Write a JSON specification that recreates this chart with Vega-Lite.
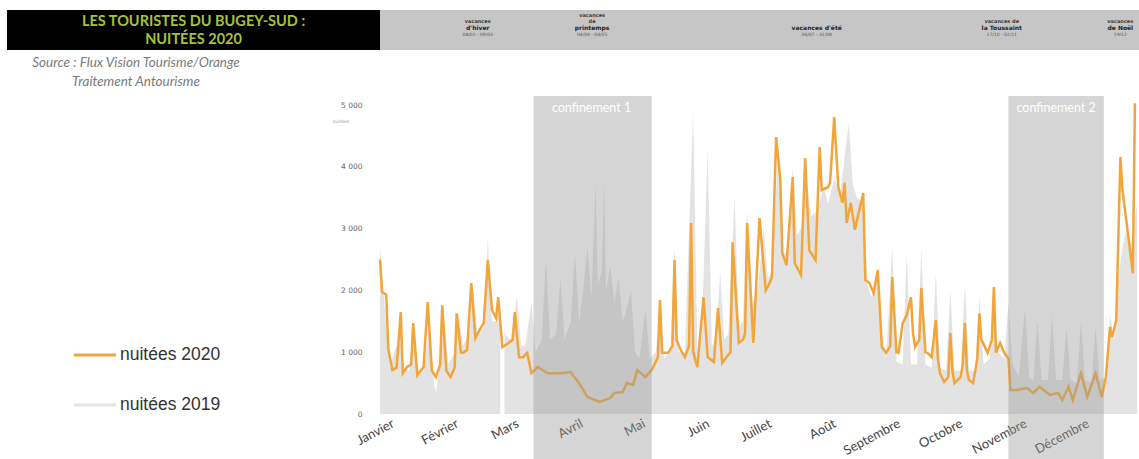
{
  "$schema": "https://vega.github.io/schema/vega-lite/v6.json",
  "padding": {"left": 7, "top": 10, "right": 2, "bottom": 0},
  "background": "#ffffff",
  "config": {"view": {"stroke": null}, "font": "Lato"},
  "bounds": "flush",
  "spacing": 86,
  "resolve": {"scale": {"color": "independent", "x": "independent", "y": "independent"}, "legend": {"color": "independent"}},
  "datasets": {
    "n2020": [
      {"date": "2020-01-01", "nuitees": 2500}, {"date": "2020-01-02", "nuitees": 1975}, {"date": "2020-01-04", "nuitees": 1930}, {"date": "2020-01-05", "nuitees": 1050},
      {"date": "2020-01-07", "nuitees": 710}, {"date": "2020-01-09", "nuitees": 750}, {"date": "2020-01-11", "nuitees": 1650}, {"date": "2020-01-12", "nuitees": 660},
      {"date": "2020-01-14", "nuitees": 760}, {"date": "2020-01-16", "nuitees": 800}, {"date": "2020-01-17", "nuitees": 1470}, {"date": "2020-01-19", "nuitees": 630},
      {"date": "2020-01-22", "nuitees": 760}, {"date": "2020-01-24", "nuitees": 1810}, {"date": "2020-01-26", "nuitees": 700}, {"date": "2020-01-28", "nuitees": 600},
      {"date": "2020-01-30", "nuitees": 800}, {"date": "2020-01-31", "nuitees": 1760}, {"date": "2020-02-02", "nuitees": 700}, {"date": "2020-02-04", "nuitees": 600},
      {"date": "2020-02-06", "nuitees": 750}, {"date": "2020-02-07", "nuitees": 1630}, {"date": "2020-02-09", "nuitees": 1000}, {"date": "2020-02-10", "nuitees": 990},
      {"date": "2020-02-12", "nuitees": 1035}, {"date": "2020-02-14", "nuitees": 2120}, {"date": "2020-02-16", "nuitees": 1230}, {"date": "2020-02-18", "nuitees": 1360},
      {"date": "2020-02-20", "nuitees": 1470}, {"date": "2020-02-22", "nuitees": 2490}, {"date": "2020-02-24", "nuitees": 1680}, {"date": "2020-02-26", "nuitees": 1550},
      {"date": "2020-02-27", "nuitees": 1890}, {"date": "2020-02-29", "nuitees": 1085}, {"date": "2020-03-03", "nuitees": 1150}, {"date": "2020-03-05", "nuitees": 1200},
      {"date": "2020-03-06", "nuitees": 1650}, {"date": "2020-03-08", "nuitees": 920}, {"date": "2020-03-10", "nuitees": 920}, {"date": "2020-03-12", "nuitees": 990},
      {"date": "2020-03-14", "nuitees": 660}, {"date": "2020-03-17", "nuitees": 760}, {"date": "2020-03-22", "nuitees": 660}, {"date": "2020-03-28", "nuitees": 660},
      {"date": "2020-04-02", "nuitees": 680}, {"date": "2020-04-03", "nuitees": 630}, {"date": "2020-04-06", "nuitees": 500}, {"date": "2020-04-10", "nuitees": 275},
      {"date": "2020-04-16", "nuitees": 195}, {"date": "2020-04-21", "nuitees": 260}, {"date": "2020-04-23", "nuitees": 340}, {"date": "2020-04-27", "nuitees": 355},
      {"date": "2020-04-29", "nuitees": 500}, {"date": "2020-05-02", "nuitees": 470}, {"date": "2020-05-04", "nuitees": 710}, {"date": "2020-05-08", "nuitees": 600},
      {"date": "2020-05-11", "nuitees": 710}, {"date": "2020-05-14", "nuitees": 920}, {"date": "2020-05-15", "nuitees": 1845}, {"date": "2020-05-16", "nuitees": 990},
      {"date": "2020-05-19", "nuitees": 990}, {"date": "2020-05-21", "nuitees": 1100}, {"date": "2020-05-22", "nuitees": 2490}, {"date": "2020-05-23", "nuitees": 1200},
      {"date": "2020-05-25", "nuitees": 1035}, {"date": "2020-05-27", "nuitees": 920}, {"date": "2020-05-29", "nuitees": 1100}, {"date": "2020-05-30", "nuitees": 3090},
      {"date": "2020-05-31", "nuitees": 1000}, {"date": "2020-06-02", "nuitees": 760}, {"date": "2020-06-05", "nuitees": 1890}, {"date": "2020-06-07", "nuitees": 920},
      {"date": "2020-06-10", "nuitees": 840}, {"date": "2020-06-12", "nuitees": 1715}, {"date": "2020-06-14", "nuitees": 825}, {"date": "2020-06-16", "nuitees": 920},
      {"date": "2020-06-18", "nuitees": 1000}, {"date": "2020-06-19", "nuitees": 2780}, {"date": "2020-06-22", "nuitees": 1150}, {"date": "2020-06-24", "nuitees": 1200},
      {"date": "2020-06-25", "nuitees": 1300}, {"date": "2020-06-26", "nuitees": 3090}, {"date": "2020-06-29", "nuitees": 1150}, {"date": "2020-07-02", "nuitees": 3170},
      {"date": "2020-07-05", "nuitees": 2000}, {"date": "2020-07-06", "nuitees": 2055}, {"date": "2020-07-08", "nuitees": 2215}, {"date": "2020-07-10", "nuitees": 4480},
      {"date": "2020-07-12", "nuitees": 3800}, {"date": "2020-07-13", "nuitees": 2600}, {"date": "2020-07-15", "nuitees": 2410}, {"date": "2020-07-18", "nuitees": 3835},
      {"date": "2020-07-19", "nuitees": 2440}, {"date": "2020-07-22", "nuitees": 2250}, {"date": "2020-07-24", "nuitees": 4140}, {"date": "2020-07-26", "nuitees": 2650},
      {"date": "2020-07-29", "nuitees": 2490}, {"date": "2020-07-31", "nuitees": 4320}, {"date": "2020-08-01", "nuitees": 3625}, {"date": "2020-08-04", "nuitees": 3670},
      {"date": "2020-08-05", "nuitees": 3740}, {"date": "2020-08-07", "nuitees": 4805}, {"date": "2020-08-09", "nuitees": 3670}, {"date": "2020-08-11", "nuitees": 3415},
      {"date": "2020-08-12", "nuitees": 3740}, {"date": "2020-08-13", "nuitees": 3090}, {"date": "2020-08-15", "nuitees": 3415}, {"date": "2020-08-17", "nuitees": 2980},
      {"date": "2020-08-18", "nuitees": 3140}, {"date": "2020-08-21", "nuitees": 3575}, {"date": "2020-08-22", "nuitees": 2170}, {"date": "2020-08-24", "nuitees": 2120},
      {"date": "2020-08-26", "nuitees": 1960}, {"date": "2020-08-28", "nuitees": 2330}, {"date": "2020-08-30", "nuitees": 1085}, {"date": "2020-09-01", "nuitees": 990},
      {"date": "2020-09-03", "nuitees": 1100}, {"date": "2020-09-04", "nuitees": 2215}, {"date": "2020-09-06", "nuitees": 1000}, {"date": "2020-09-07", "nuitees": 990},
      {"date": "2020-09-09", "nuitees": 1470}, {"date": "2020-09-11", "nuitees": 1600}, {"date": "2020-09-13", "nuitees": 1890}, {"date": "2020-09-14", "nuitees": 1300},
      {"date": "2020-09-15", "nuitees": 1085}, {"date": "2020-09-17", "nuitees": 1200}, {"date": "2020-09-18", "nuitees": 2040}, {"date": "2020-09-20", "nuitees": 1000},
      {"date": "2020-09-21", "nuitees": 990}, {"date": "2020-09-23", "nuitees": 920}, {"date": "2020-09-25", "nuitees": 1520}, {"date": "2020-09-26", "nuitees": 900},
      {"date": "2020-09-27", "nuitees": 660}, {"date": "2020-09-29", "nuitees": 520}, {"date": "2020-10-01", "nuitees": 600}, {"date": "2020-10-02", "nuitees": 1310},
      {"date": "2020-10-03", "nuitees": 700}, {"date": "2020-10-04", "nuitees": 500}, {"date": "2020-10-07", "nuitees": 600}, {"date": "2020-10-08", "nuitees": 800},
      {"date": "2020-10-09", "nuitees": 1470}, {"date": "2020-10-10", "nuitees": 700}, {"date": "2020-10-11", "nuitees": 550}, {"date": "2020-10-13", "nuitees": 500},
      {"date": "2020-10-15", "nuitees": 900}, {"date": "2020-10-16", "nuitees": 1630}, {"date": "2020-10-17", "nuitees": 1200}, {"date": "2020-10-20", "nuitees": 990},
      {"date": "2020-10-22", "nuitees": 1200}, {"date": "2020-10-23", "nuitees": 2055}, {"date": "2020-10-24", "nuitees": 990}, {"date": "2020-10-26", "nuitees": 1150},
      {"date": "2020-10-28", "nuitees": 990}, {"date": "2020-10-30", "nuitees": 900}, {"date": "2020-10-31", "nuitees": 390}, {"date": "2020-11-03", "nuitees": 390},
      {"date": "2020-11-08", "nuitees": 420}, {"date": "2020-11-11", "nuitees": 340}, {"date": "2020-11-14", "nuitees": 440}, {"date": "2020-11-19", "nuitees": 310},
      {"date": "2020-11-23", "nuitees": 340}, {"date": "2020-11-25", "nuitees": 225}, {"date": "2020-11-28", "nuitees": 440}, {"date": "2020-11-30", "nuitees": 225},
      {"date": "2020-12-04", "nuitees": 660}, {"date": "2020-12-07", "nuitees": 275}, {"date": "2020-12-11", "nuitees": 660}, {"date": "2020-12-14", "nuitees": 275},
      {"date": "2020-12-16", "nuitees": 600}, {"date": "2020-12-18", "nuitees": 1410}, {"date": "2020-12-19", "nuitees": 1245}, {"date": "2020-12-21", "nuitees": 1520},
      {"date": "2020-12-23", "nuitees": 4160}, {"date": "2020-12-24", "nuitees": 3625}, {"date": "2020-12-29", "nuitees": 2280}, {"date": "2020-12-30", "nuitees": 5030}
    ],
    "n2019": [
      {"date": "2020-01-01", "nuitees": 2700}, {"date": "2020-01-02", "nuitees": 2300}, {"date": "2020-01-04", "nuitees": 1400}, {"date": "2020-01-06", "nuitees": 800},
      {"date": "2020-01-09", "nuitees": 1100}, {"date": "2020-01-11", "nuitees": 1400}, {"date": "2020-01-12", "nuitees": 750}, {"date": "2020-01-15", "nuitees": 700},
      {"date": "2020-01-18", "nuitees": 1300}, {"date": "2020-01-19", "nuitees": 650}, {"date": "2020-01-22", "nuitees": 700}, {"date": "2020-01-25", "nuitees": 1450},
      {"date": "2020-01-27", "nuitees": 500}, {"date": "2020-01-28", "nuitees": 350}, {"date": "2020-01-30", "nuitees": 900}, {"date": "2020-02-01", "nuitees": 1500},
      {"date": "2020-02-03", "nuitees": 800}, {"date": "2020-02-06", "nuitees": 1000}, {"date": "2020-02-08", "nuitees": 1600}, {"date": "2020-02-10", "nuitees": 1100},
      {"date": "2020-02-13", "nuitees": 1300}, {"date": "2020-02-15", "nuitees": 2000}, {"date": "2020-02-17", "nuitees": 1300}, {"date": "2020-02-20", "nuitees": 1400},
      {"date": "2020-02-22", "nuitees": 2850}, {"date": "2020-02-24", "nuitees": 1500}, {"date": "2020-02-26", "nuitees": 1500}, {"date": "2020-02-28", "nuitees": 1700},
      {"date": "2020-02-29", "nuitees": null}, {"date": "2020-03-01", "nuitees": 1300}, {"date": "2020-03-04", "nuitees": 1200}, {"date": "2020-03-07", "nuitees": 1900},
      {"date": "2020-03-09", "nuitees": 1100}, {"date": "2020-03-11", "nuitees": 1100}, {"date": "2020-03-14", "nuitees": 1800}, {"date": "2020-03-16", "nuitees": 1000},
      {"date": "2020-03-19", "nuitees": 1200}, {"date": "2020-03-21", "nuitees": 2500}, {"date": "2020-03-23", "nuitees": 1200}, {"date": "2020-03-26", "nuitees": 1300},
      {"date": "2020-03-28", "nuitees": 2200}, {"date": "2020-03-30", "nuitees": 1200}, {"date": "2020-04-02", "nuitees": 1500}, {"date": "2020-04-04", "nuitees": 2600},
      {"date": "2020-04-06", "nuitees": 1500}, {"date": "2020-04-08", "nuitees": 2000}, {"date": "2020-04-10", "nuitees": 2700}, {"date": "2020-04-12", "nuitees": 1900},
      {"date": "2020-04-14", "nuitees": 3750}, {"date": "2020-04-15", "nuitees": 2100}, {"date": "2020-04-17", "nuitees": 2300}, {"date": "2020-04-18", "nuitees": 3800},
      {"date": "2020-04-19", "nuitees": 2000}, {"date": "2020-04-21", "nuitees": 2400}, {"date": "2020-04-23", "nuitees": 1800}, {"date": "2020-04-25", "nuitees": 2200},
      {"date": "2020-04-27", "nuitees": 1500}, {"date": "2020-04-29", "nuitees": 1700}, {"date": "2020-05-01", "nuitees": 2000}, {"date": "2020-05-03", "nuitees": 1000},
      {"date": "2020-05-05", "nuitees": 900}, {"date": "2020-05-08", "nuitees": 1700}, {"date": "2020-05-10", "nuitees": 900}, {"date": "2020-05-13", "nuitees": 1000},
      {"date": "2020-05-15", "nuitees": 1900}, {"date": "2020-05-17", "nuitees": 900}, {"date": "2020-05-20", "nuitees": 1000}, {"date": "2020-05-22", "nuitees": 2700},
      {"date": "2020-05-24", "nuitees": 1000}, {"date": "2020-05-27", "nuitees": 1000}, {"date": "2020-05-31", "nuitees": 4900}, {"date": "2020-06-02", "nuitees": 1000},
      {"date": "2020-06-04", "nuitees": 1200}, {"date": "2020-06-07", "nuitees": 4300}, {"date": "2020-06-09", "nuitees": 1100}, {"date": "2020-06-11", "nuitees": 1200},
      {"date": "2020-06-13", "nuitees": 2300}, {"date": "2020-06-15", "nuitees": 1200}, {"date": "2020-06-17", "nuitees": 1300}, {"date": "2020-06-20", "nuitees": 3500},
      {"date": "2020-06-22", "nuitees": 1400}, {"date": "2020-06-24", "nuitees": 1500}, {"date": "2020-06-26", "nuitees": 3300}, {"date": "2020-06-28", "nuitees": 1700},
      {"date": "2020-07-01", "nuitees": 2000}, {"date": "2020-07-04", "nuitees": 3000}, {"date": "2020-07-06", "nuitees": 2200}, {"date": "2020-07-08", "nuitees": 2300},
      {"date": "2020-07-11", "nuitees": 4300}, {"date": "2020-07-13", "nuitees": 2600}, {"date": "2020-07-15", "nuitees": 2600}, {"date": "2020-07-18", "nuitees": 4000},
      {"date": "2020-07-20", "nuitees": 2900}, {"date": "2020-07-22", "nuitees": 3000}, {"date": "2020-07-25", "nuitees": 3700}, {"date": "2020-07-27", "nuitees": 3200},
      {"date": "2020-07-30", "nuitees": 3300}, {"date": "2020-08-02", "nuitees": 3700}, {"date": "2020-08-04", "nuitees": 3400}, {"date": "2020-08-07", "nuitees": 3800},
      {"date": "2020-08-10", "nuitees": 3600}, {"date": "2020-08-14", "nuitees": 4700}, {"date": "2020-08-16", "nuitees": 3700}, {"date": "2020-08-18", "nuitees": 3500},
      {"date": "2020-08-21", "nuitees": 3400}, {"date": "2020-08-23", "nuitees": 2100}, {"date": "2020-08-25", "nuitees": 1900}, {"date": "2020-08-28", "nuitees": 2300},
      {"date": "2020-08-30", "nuitees": 1200}, {"date": "2020-09-01", "nuitees": 900}, {"date": "2020-09-04", "nuitees": 2700}, {"date": "2020-09-06", "nuitees": 850},
      {"date": "2020-09-09", "nuitees": 800}, {"date": "2020-09-11", "nuitees": 2600}, {"date": "2020-09-13", "nuitees": 800}, {"date": "2020-09-16", "nuitees": 800},
      {"date": "2020-09-18", "nuitees": 2700}, {"date": "2020-09-20", "nuitees": 800}, {"date": "2020-09-23", "nuitees": 750}, {"date": "2020-09-25", "nuitees": 2300},
      {"date": "2020-09-27", "nuitees": 750}, {"date": "2020-09-30", "nuitees": 700}, {"date": "2020-10-02", "nuitees": 2000}, {"date": "2020-10-04", "nuitees": 700},
      {"date": "2020-10-07", "nuitees": 700}, {"date": "2020-10-09", "nuitees": 2100}, {"date": "2020-10-11", "nuitees": 700}, {"date": "2020-10-14", "nuitees": 700},
      {"date": "2020-10-16", "nuitees": 1900}, {"date": "2020-10-18", "nuitees": 800}, {"date": "2020-10-21", "nuitees": 900}, {"date": "2020-10-23", "nuitees": 2100},
      {"date": "2020-10-25", "nuitees": 1000}, {"date": "2020-10-28", "nuitees": 900}, {"date": "2020-10-30", "nuitees": 1800}, {"date": "2020-11-01", "nuitees": 800},
      {"date": "2020-11-04", "nuitees": 600}, {"date": "2020-11-07", "nuitees": 1700}, {"date": "2020-11-09", "nuitees": 600}, {"date": "2020-11-11", "nuitees": 550},
      {"date": "2020-11-13", "nuitees": 1500}, {"date": "2020-11-15", "nuitees": 550}, {"date": "2020-11-18", "nuitees": 550}, {"date": "2020-11-20", "nuitees": 1600},
      {"date": "2020-11-22", "nuitees": 550}, {"date": "2020-11-25", "nuitees": 550}, {"date": "2020-11-27", "nuitees": 1400}, {"date": "2020-11-29", "nuitees": 550},
      {"date": "2020-12-02", "nuitees": 500}, {"date": "2020-12-04", "nuitees": 1500}, {"date": "2020-12-06", "nuitees": 550}, {"date": "2020-12-09", "nuitees": 500},
      {"date": "2020-12-11", "nuitees": 1400}, {"date": "2020-12-13", "nuitees": 550}, {"date": "2020-12-16", "nuitees": 600}, {"date": "2020-12-18", "nuitees": 1600},
      {"date": "2020-12-20", "nuitees": 1200}, {"date": "2020-12-22", "nuitees": 2200}, {"date": "2020-12-24", "nuitees": 2700}, {"date": "2020-12-26", "nuitees": 3000},
      {"date": "2020-12-28", "nuitees": 2700}, {"date": "2020-12-31", "nuitees": 3400}
    ],
    "confinements": [
      {"debut": "2020-03-15", "fin": "2020-05-11", "centre": "2020-04-12", "libelle": "confinement 1"},
      {"debut": "2020-10-30", "fin": "2020-12-15", "centre": "2020-11-22", "libelle": "confinement 2"}
    ],
    "vacances": [
      {"date": "2020-02-17", "haut": "", "milieu": "vacances", "bas": "d'hiver", "periode": "08/02 - 09/03"},
      {"date": "2020-04-12", "haut": "vacances", "milieu": "de", "bas": "printemps", "periode": "04/04 - 04/05"},
      {"date": "2020-07-29", "haut": "", "milieu": "", "bas": "vacances d'été", "periode": "04/07 - 31/08"},
      {"date": "2020-10-26", "haut": "", "milieu": "vacances de", "bas": "la Toussaint", "periode": "17/10 - 02/11"},
      {"date": "2020-12-22", "haut": "", "milieu": "vacances", "bas": "de Noël", "periode": "19/12"}
    ]
  },
  "vconcat": [
    {
      "bounds": "flush",
      "spacing": 0,
      "resolve": {"scale": {"x": "independent", "y": "independent"}},
      "hconcat": [
        {
          "width": 373,
          "height": 40,
          "view": {"fill": "#000000", "stroke": null},
          "data": {"values": [{"titre": "LES TOURISTES DU BUGEY-SUD :\nNUITÉES 2020"}]},
          "mark": {"type": "text", "color": "#a6c23a", "font": "Lato", "fontSize": 14.5, "fontWeight": "bold", "lineBreak": "\n", "lineHeight": 18, "align": "center", "baseline": "middle", "dy": -8},
          "encoding": {"text": {"field": "titre", "type": "nominal"}}
        },
        {
          "width": 759,
          "height": 40,
          "view": {"fill": "#c6c6c6", "stroke": null},
          "data": {"name": "vacances"},
          "encoding": {
            "x": {"field": "date", "type": "temporal", "scale": {"type": "utc", "domain": [{"year": 2020, "month": 1, "date": 1, "utc": true}, {"year": 2020, "month": 12, "date": 31, "utc": true}]}, "axis": null}
          },
          "layer": [
            {
              "mark": {"type": "text", "color": "#3a3a3a", "font": "DejaVu Sans", "fontSize": 5, "fontWeight": "bold", "align": "center", "baseline": "middle", "dy": -15},
              "encoding": {"text": {"field": "haut", "type": "nominal"}}
            },
            {
              "mark": {"type": "text", "color": "#3a3a3a", "font": "DejaVu Sans", "fontSize": 5, "fontWeight": "bold", "align": "center", "baseline": "middle", "dy": -9},
              "encoding": {"text": {"field": "milieu", "type": "nominal"}}
            },
            {
              "mark": {"type": "text", "color": "#222222", "font": "DejaVu Sans", "fontSize": 6, "fontWeight": "bold", "align": "center", "baseline": "middle", "dy": -2},
              "encoding": {"text": {"field": "bas", "type": "nominal"}}
            },
            {
              "mark": {"type": "text", "color": "#555555", "font": "DejaVu Sans", "fontSize": 4.5, "align": "center", "baseline": "middle", "dy": 5},
              "encoding": {"text": {"field": "periode", "type": "nominal"}}
            }
          ]
        }
      ]
    },
    {
      "bounds": "flush",
      "spacing": 0,
      "resolve": {"scale": {"color": "independent", "x": "independent", "y": "independent"}, "legend": {"color": "independent"}},
      "hconcat": [
        {
          "width": 373,
          "height": 363,
          "title": {
            "text": ["Source : Flux Vision Tourisme/Orange", "Traitement Antourisme"],
            "anchor": "start",
            "align": "center",
            "dx": 129,
            "offset": 8,
            "font": "Lato",
            "fontSize": 13.5,
            "fontStyle": "italic",
            "fontWeight": "normal",
            "color": "#7a7a7a",
            "lineHeight": 19,
            "frame": "group"
          },
          "data": {"values": [{"vide": ""}]},
          "mark": {"type": "text"},
          "encoding": {"text": {"field": "vide", "type": "nominal"}}
        },
        {
          "width": 757,
          "height": 363,
          "layer": [
            {
              "data": {"name": "n2019"},
              "mark": {"type": "area", "invalid": "break-paths-show-domains", "opacity": 1},
              "encoding": {
                "x": {
                  "field": "date", "type": "temporal",
                  "scale": {"type": "utc", "domain": [{"year": 2020, "month": 1, "date": 1, "utc": true}, {"year": 2020, "month": 12, "date": 31, "utc": true}]},
                  "axis": {
                    "title": null, "tickCount": "month", "domain": false, "ticks": false, "grid": false,
                    "labelExpr": "['Janvier','Février','Mars','Avril','Mai','Juin','Juillet','Août','Septembre','Octobre','Novembre','Décembre'][utcmonth(datum.value)]",
                    "labelAngle": -28, "labelAlign": "right", "labelBaseline": "top", "labelOffset": 10, "labelPadding": 0,
                    "offset": -42, "labelFont": "Lato", "labelFontSize": 13, "labelColor": "#444444", "labelFlush": false, "labelOverlap": false, "labelBound": false
                  }
                },
                "y": {
                  "field": "nuitees", "type": "quantitative",
                  "scale": {"domain": [-728, 5146], "nice": false, "zero": false},
                  "axis": {
                    "values": [0, 1000, 2000, 3000, 4000, 5000],
                    "labelExpr": "replace(format(datum.value, ',d'), ',', ' ')",
                    "domain": false, "ticks": false, "grid": false, "labelPadding": 18,
                    "labelFont": "DejaVu Sans", "labelFontSize": 7.5, "labelColor": "#666666",
                    "title": "nuitées", "titleAngle": 0, "titleFont": "DejaVu Sans", "titleFontSize": 4.5, "titleFontWeight": "normal", "titleColor": "#999999",
                    "titleX": -48, "titleY": 25, "titleAlign": "left", "titleBaseline": "middle"
                  }
                },
                "y2": {"datum": 0},
                "color": {
                  "datum": "nuitées 2019",
                  "scale": {"domain": ["nuitées 2020", "nuitées 2019"], "range": ["#f2a53a", "#e3e3e3"]},
                  "legend": {
                    "title": null, "orient": "none", "legendX": -308, "legendY": 236, "padding": 0,
                    "symbolType": "stroke", "symbolSize": 1800, "symbolStrokeWidth": 3,
                    "labelFont": "Liberation Sans", "labelFontSize": 17.5, "labelColor": "#333333", "labelOffset": 2, "rowPadding": 18,
                    "encode": {
                      "symbols": {
                        "update": {
                          "stroke": [{"test": "datum.value === 'nuitées 2019'", "value": "#d9d9d9"}, {"value": "#f2a53a"}],
                          "strokeWidth": [{"test": "datum.value === 'nuitées 2019'", "value": 7}, {"value": 3}],
                          "fill": {"value": "transparent"}
                        }
                      }
                    }
                  }
                }
              }
            },
            {
              "data": {"name": "n2020"},
              "mark": {"type": "line", "strokeWidth": 2.5},
              "encoding": {
                "x": {"field": "date", "type": "temporal"},
                "y": {"field": "nuitees", "type": "quantitative"},
                "color": {"datum": "nuitées 2020"}
              }
            },
            {
              "data": {"name": "confinements"},
              "mark": {"type": "rect", "color": "#9c9c9c", "opacity": 0.42},
              "encoding": {
                "x": {"field": "debut", "type": "temporal"},
                "x2": {"field": "fin"}
              }
            },
            {
              "data": {"name": "confinements"},
              "mark": {"type": "text", "color": "#ffffff", "font": "Lato", "fontSize": 12.5, "align": "center", "baseline": "middle"},
              "encoding": {
                "x": {"field": "centre", "type": "temporal"},
                "y": {"datum": 4950},
                "text": {"field": "libelle", "type": "nominal"}
              }
            }
          ]
        }
      ]
    }
  ]
}
